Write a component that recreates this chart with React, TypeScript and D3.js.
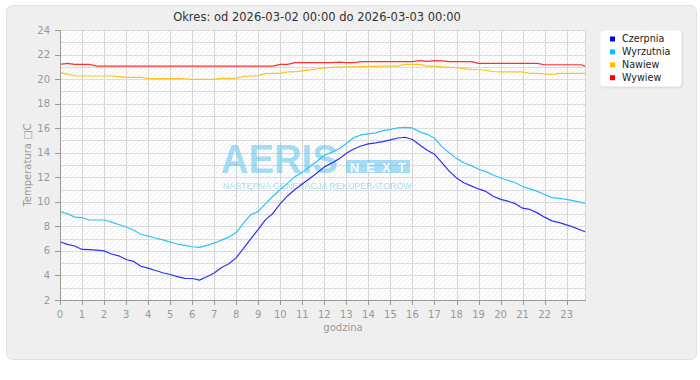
import React from 'react';
import * as d3 from 'd3';

const minutes: number[] = [...d3.range(0, 1421, 20), 1430];

const czerpnia = [
  6.75, 6.53, 6.4, 6.12, 6.1, 6.07, 6.0, 5.75, 5.6, 5.3,
  5.15, 4.75, 4.6, 4.4, 4.22, 4.08, 3.9, 3.76, 3.75, 3.62,
  3.9, 4.2, 4.65, 4.95, 5.45, 6.2, 7.0, 7.75, 8.55, 9.05,
  9.85, 10.5, 11.0, 11.45, 11.9, 12.35, 12.85, 13.15, 13.5, 13.95,
  14.3, 14.55, 14.72, 14.8, 14.9, 15.05, 15.2, 15.26, 15.08, 14.63,
  14.2, 13.88, 13.2, 12.5, 11.95, 11.55, 11.3, 11.05, 10.85, 10.45,
  10.2, 10.05, 9.85, 9.48, 9.38, 9.1, 8.75, 8.45, 8.3, 8.12,
  7.92, 7.68, 7.56,
];

const wyrzutnia = [
  9.2, 9.05, 8.75, 8.72, 8.52, 8.52, 8.52, 8.35, 8.15, 7.95,
  7.7, 7.36, 7.2, 7.05, 6.9, 6.72, 6.56, 6.45, 6.34, 6.29,
  6.45, 6.64, 6.88, 7.12, 7.52, 8.27, 8.95, 9.22, 9.85, 10.45,
  11.0, 11.5, 12.05, 12.42, 12.85, 13.3, 13.8, 14.03, 14.33, 14.76,
  15.22, 15.45, 15.54, 15.62, 15.8, 15.9, 16.03, 16.07, 16.02, 15.7,
  15.5, 15.18, 14.5, 14.0, 13.54, 13.18, 12.95, 12.65, 12.46, 12.18,
  11.94, 11.76, 11.55, 11.25, 11.05, 10.85, 10.6, 10.34, 10.28, 10.2,
  10.08, 9.95, 9.88,
];

const nawiew = [
  20.52, 20.4, 20.27, 20.25, 20.25, 20.25, 20.25, 20.25, 20.2, 20.14,
  20.14, 20.14, 20.05, 20.03, 20.03, 20.03, 20.03, 20.03, 19.98, 19.98,
  19.98, 19.98, 20.06, 20.06, 20.07, 20.22, 20.25, 20.28, 20.44, 20.47,
  20.47, 20.58, 20.6, 20.67, 20.75, 20.82, 20.92, 20.95, 20.98, 21.0,
  21.0, 21.02, 21.03, 21.04, 21.05, 21.06, 21.06, 21.2, 21.2, 21.2,
  21.06, 21.06, 21.0, 20.96, 20.93, 20.85, 20.79, 20.76, 20.72, 20.62,
  20.58, 20.58, 20.58, 20.58, 20.47, 20.47, 20.43, 20.38, 20.47, 20.47,
  20.47, 20.47, 20.47,
];

const wywiew = [
  21.2, 21.28, 21.2, 21.2, 21.2, 21.06, 21.06, 21.06, 21.06, 21.06,
  21.06, 21.06, 21.06, 21.06, 21.06, 21.06, 21.06, 21.06, 21.06, 21.06,
  21.06, 21.06, 21.06, 21.06, 21.06, 21.06, 21.06, 21.06, 21.06, 21.06,
  21.2, 21.2, 21.34, 21.34, 21.34, 21.34, 21.34, 21.34, 21.38, 21.34,
  21.34, 21.42, 21.42, 21.42, 21.42, 21.42, 21.42, 21.42, 21.42, 21.5,
  21.45, 21.5, 21.48, 21.42, 21.42, 21.42, 21.42, 21.28, 21.28, 21.28,
  21.28, 21.28, 21.28, 21.28, 21.28, 21.28, 21.17, 21.17, 21.17, 21.17,
  21.17, 21.17, 21.06,
];

const seriesNames = ['Czerpnia', 'Wyrzutnia', 'Nawiew', 'Wywiew'];
const seriesValues = [czerpnia, wyrzutnia, nawiew, wywiew];
const lineColors = ['#3030f4', '#2fc3f8', '#ffc21a', '#ff3030'];
const legendColors = ['#0000ff', '#00bfff', '#ffbf00', '#ff0000'];
const yTicks = [2, 4, 6, 8, 10, 12, 14, 16, 18, 20, 22, 24];
const yGrid = d3.range(2, 25, 1);
const xTicks = d3.range(0, 24, 1);

const title = 'Okres: od 2026-03-02 00:00 do 2026-03-03 00:00';
const yTitle = 'Temperatura \u25A1C';
const xTitle = 'godzina';

const FONT = '"DejaVu Sans", Verdana, sans-serif';

export default function App() {
  const W = 700;
  const H = 380;
  const left = 60, right = 585, top = 30, bottom = 300;
  const x = d3.scaleLinear().domain([0, 1430 / 60]).range([left, right]);
  const y = d3.scaleLinear().domain([2, 24]).range([bottom, top]);
  const crisp = (v: number) => Math.round(v) + 0.5;

  const line = d3
    .line<number>()
    .x((_, i) => x(minutes[i] / 60))
    .y((d) => y(d));

  return (
    <svg
      width={W}
      height={H}
      style={{ position: 'absolute', left: 0, top: 0, display: 'block' }}
      fontFamily={FONT}
    >
      <defs>
        <pattern id="hatch" width="5" height="5" patternUnits="userSpaceOnUse">
          <rect width="5" height="5" fill="#ffffff" />
          <path d="M-1,1 l2,-2 M0,5 l5,-5 M4,6 l2,-2" stroke="#ebebeb" strokeWidth="1" />
        </pattern>
        <filter id="lshadow" x="-10%" y="-10%" width="130%" height="130%">
          <feDropShadow dx="1" dy="1" stdDeviation="1" floodColor="#000" floodOpacity="0.12" />
        </filter>
        <clipPath id="plotclip">
          <rect x={left} y={top - 2} width={right - left + 1} height={bottom - top + 4} />
        </clipPath>
      </defs>

      <rect x={0} y={0} width={W} height={H} fill="#ffffff" />
      <rect x={6.5} y={5.5} width={690} height={354} rx={6} fill="#efefef" stroke="#e0e0e0" />

      <text x={317} y={21} textAnchor="middle" fontSize={11.5} fill="#333">
        {title}
      </text>

      {/* plot background */}
      <rect x={left} y={top} width={right - left} height={bottom - top} fill="url(#hatch)" />

      {/* horizontal grid */}
      {yGrid.map((v) => (
        <line key={'hg' + v} x1={left} x2={right} y1={crisp(y(v))} y2={crisp(y(v))} stroke="#dcdcdc" strokeWidth={1} />
      ))}
      {/* vertical grid */}
      {xTicks.map((h) => (
        <line key={'vg' + h} x1={crisp(x(h))} x2={crisp(x(h))} y1={top} y2={bottom} stroke="#d6d6d6" strokeWidth={1} />
      ))}
      <line x1={right + 0.5} x2={right + 0.5} y1={top} y2={bottom} stroke="#d6d6d6" />

      {/* watermark */}
      <g opacity={0.55}>
        <text
          x={221}
          y={172.5}
          fontFamily='"Liberation Sans", Arial, sans-serif'
          fontWeight="bold"
          fontSize={41}
          fill="#5ec4ee"
          textLength={117}
          lengthAdjust="spacingAndGlyphs"
        >
          AERIS
        </text>
        <rect x={346} y={160} width={64} height={13} fill="#5ec4ee" />
        <text
          x={350}
          y={171.5}
          fontFamily='"Liberation Sans", Arial, sans-serif'
          fontWeight="bold"
          fontSize={13}
          fill="#ffffff"
          textLength={56}
          lengthAdjust="spacing"
        >
          NEXT
        </text>
        <text
          x={223}
          y={188.5}
          fontFamily='"Liberation Sans", Arial, sans-serif'
          fontSize={9}
          fill="#5ec4ee"
          textLength={189}
          lengthAdjust="spacingAndGlyphs"
        >
          NASTĘPNA GENERACJA REKUPERATORÓW
        </text>
      </g>

      {/* series */}
      <g clipPath="url(#plotclip)">
        {seriesValues.map((vals, i) => (
          <path
            key={seriesNames[i]}
            d={line(vals) || ''}
            fill="none"
            stroke={lineColors[i]}
            strokeWidth={1.2}
            strokeLinejoin="round"
          />
        ))}
      </g>

      {/* axes */}
      <line x1={left + 0.5} x2={left + 0.5} y1={top} y2={bottom + 0.5} stroke="#999" />
      <line x1={left} x2={right + 1} y1={bottom + 0.5} y2={bottom + 0.5} stroke="#999" />
      {yTicks.map((v) => (
        <g key={'yt' + v}>
          <line x1={left - 5} x2={left} y1={crisp(y(v))} y2={crisp(y(v))} stroke="#999" />
          <text x={left - 10} y={y(v) + 3.5} textAnchor="end" fontSize={10} fill="#999">
            {v}
          </text>
        </g>
      ))}
      {xTicks.map((h) => (
        <g key={'xt' + h}>
          <line x1={crisp(x(h))} x2={crisp(x(h))} y1={bottom} y2={bottom + 5} stroke="#999" />
          <text x={x(h)} y={317.5} textAnchor="middle" fontSize={10} fill="#999">
            {h}
          </text>
        </g>
      ))}
      <text x={343} y={330.5} textAnchor="middle" fontSize={10} fill="#999">
        {xTitle}
      </text>
      <text
        transform={`translate(30.5, ${(top + bottom) / 2}) rotate(-90)`}
        textAnchor="middle"
        fontSize={10}
        fill="#999"
      >
        {yTitle}
      </text>

      {/* legend */}
      <rect x={600.5} y={30.5} width={81} height={56} rx={4} fill="#ffffff" filter="url(#lshadow)" />
      {seriesNames.map((n, i) => (
        <g key={'lg' + n}>
          <rect x={610} y={36.5 + i * 12.9} width={5} height={5} fill={legendColors[i]} />
          <text x={622} y={41.8 + i * 12.9} fontSize={9.6} fill="#222">
            {n}
          </text>
        </g>
      ))}
    </svg>
  );
}
